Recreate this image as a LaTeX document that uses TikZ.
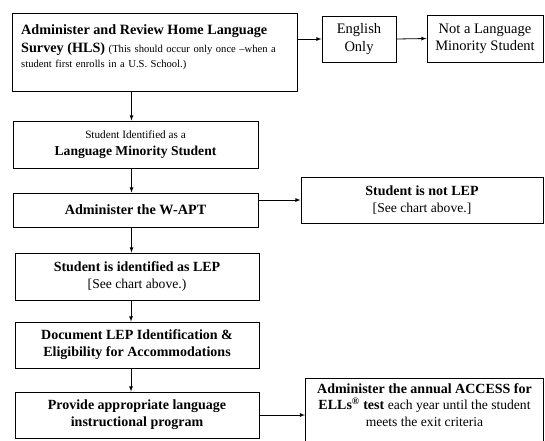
\documentclass[tikz,border=0pt]{standalone}
\usepackage{fontspec}
\setmainfont{Liberation Serif}
\usetikzlibrary{calc}

\newcommand{\bigb}{\fontsize{14.2}{17}\selectfont\bfseries}
\newcommand{\midb}{\fontsize{14}{16}\selectfont\bfseries}
\newcommand{\smallr}{\fontsize{10.6}{14}\selectfont\mdseries}
\newcommand{\plainr}{\fontsize{13.6}{16}\selectfont\mdseries}

\begin{document}
\begin{tikzpicture}[x=1pt,y=-1pt]
\tikzset{box/.style={draw,line width=1pt,align=center,inner sep=2pt},
  arr/.style={->,line width=.8pt,>=latex}}
\useasboundingbox (0,0) rectangle (545,440);
% left column
\node[box,anchor=north west,minimum width=285,minimum height=78] (hls) at (12,13) {};
\node[anchor=north west,text width=282,align=left,inner sep=0,font=\fontsize{10.6}{15}\selectfont] (hlstxt) at ([shift={(9,11)}]hls.north west)
 {\bigb Administer and Review Home Language\\[1pt]
  \bigb Survey (HLS) {\smallr(This should occur only once --when a}\\
  \smallr student first enrolls in a U.S. School.)};
\node[box,minimum width=245,minimum height=47,font=\fontsize{13}{17}\selectfont] (lms) at (135.5,144.5)
 {{\fontsize{11.2}{14}\selectfont Student Identified as a}\\ {\fontsize{13.6}{16}\selectfont\bfseries Language Minority Student}};
\node[box,minimum width=245,minimum height=34] (wapt) at (135.5,210)
 {\bigb Administer the W-APT};
\node[box,minimum width=244,minimum height=47,font=\fontsize{14}{17}\selectfont] (lep) at (137,276.5)
 {{\midb Student is identified as LEP}\\ {\plainr[See chart above.)}};
\node[box,minimum width=244,minimum height=46,font=\fontsize{14}{17}\selectfont] (doc) at (137,345)
 {\midb Document LEP Identification \&\\ \midb Eligibility for Accommodations};
\node[box,minimum width=244,minimum height=46,font=\fontsize{14}{17}\selectfont] (prov) at (137,415)
 {\midb Provide appropriate language\\ \midb instructional program};
% right side
\node[box,minimum width=74,minimum height=46,font=\fontsize{14.5}{18}\selectfont] (eng) at (359,39)
 {English\\ Only};
\node[box,minimum width=116,minimum height=47,font=\fontsize{14.5}{17}\selectfont] (notlms) at (485,38.5)
 {Not a Language\\ Minority Student};
\node[box,minimum width=242,minimum height=46,font=\fontsize{14}{17}\selectfont] (notlep) at (422,200)
 {{\midb Student is not LEP}\\ {\plainr[See chart above.]}};
\node[box,anchor=north west,minimum width=238,minimum height=80] (access) at (305,378) {};
\node[anchor=north,inner sep=0,align=center,font=\fontsize{13.5}{16.5}\selectfont] (accesstxt) at ([yshift=-5pt]access.north)
 {\midb Administer the annual ACCESS for\\
  \midb ELLs\textsuperscript{\textregistered} test {\plainr each year until the student}\\
  \plainr meets the exit criteria};
% connectors
\draw[arr] (hls.east |- eng.west) -- (eng.west);
\draw[arr] (eng.east) -- (notlms.west);
\draw[arr] ([xshift=-4pt]lms.north |- hls.south) -- ([xshift=-4pt]lms.north);
\draw[arr] ([xshift=-4pt]lms.south) -- ([xshift=-4pt]wapt.north);
\draw[arr] ([xshift=-4pt]wapt.south) -- ([xshift=-4pt]lep.north -| wapt.south);
\draw[arr] ([xshift=-6pt]lep.south) -- ([xshift=-6pt]doc.north);
\draw[arr] ([xshift=-6pt]doc.south) -- ([xshift=-6pt]prov.north);
\draw[arr] (notlep.west -| wapt.east) -- (notlep.west);
\draw[arr] (prov.east) -- (prov.east -| access.west);
\end{tikzpicture}
\end{document}
